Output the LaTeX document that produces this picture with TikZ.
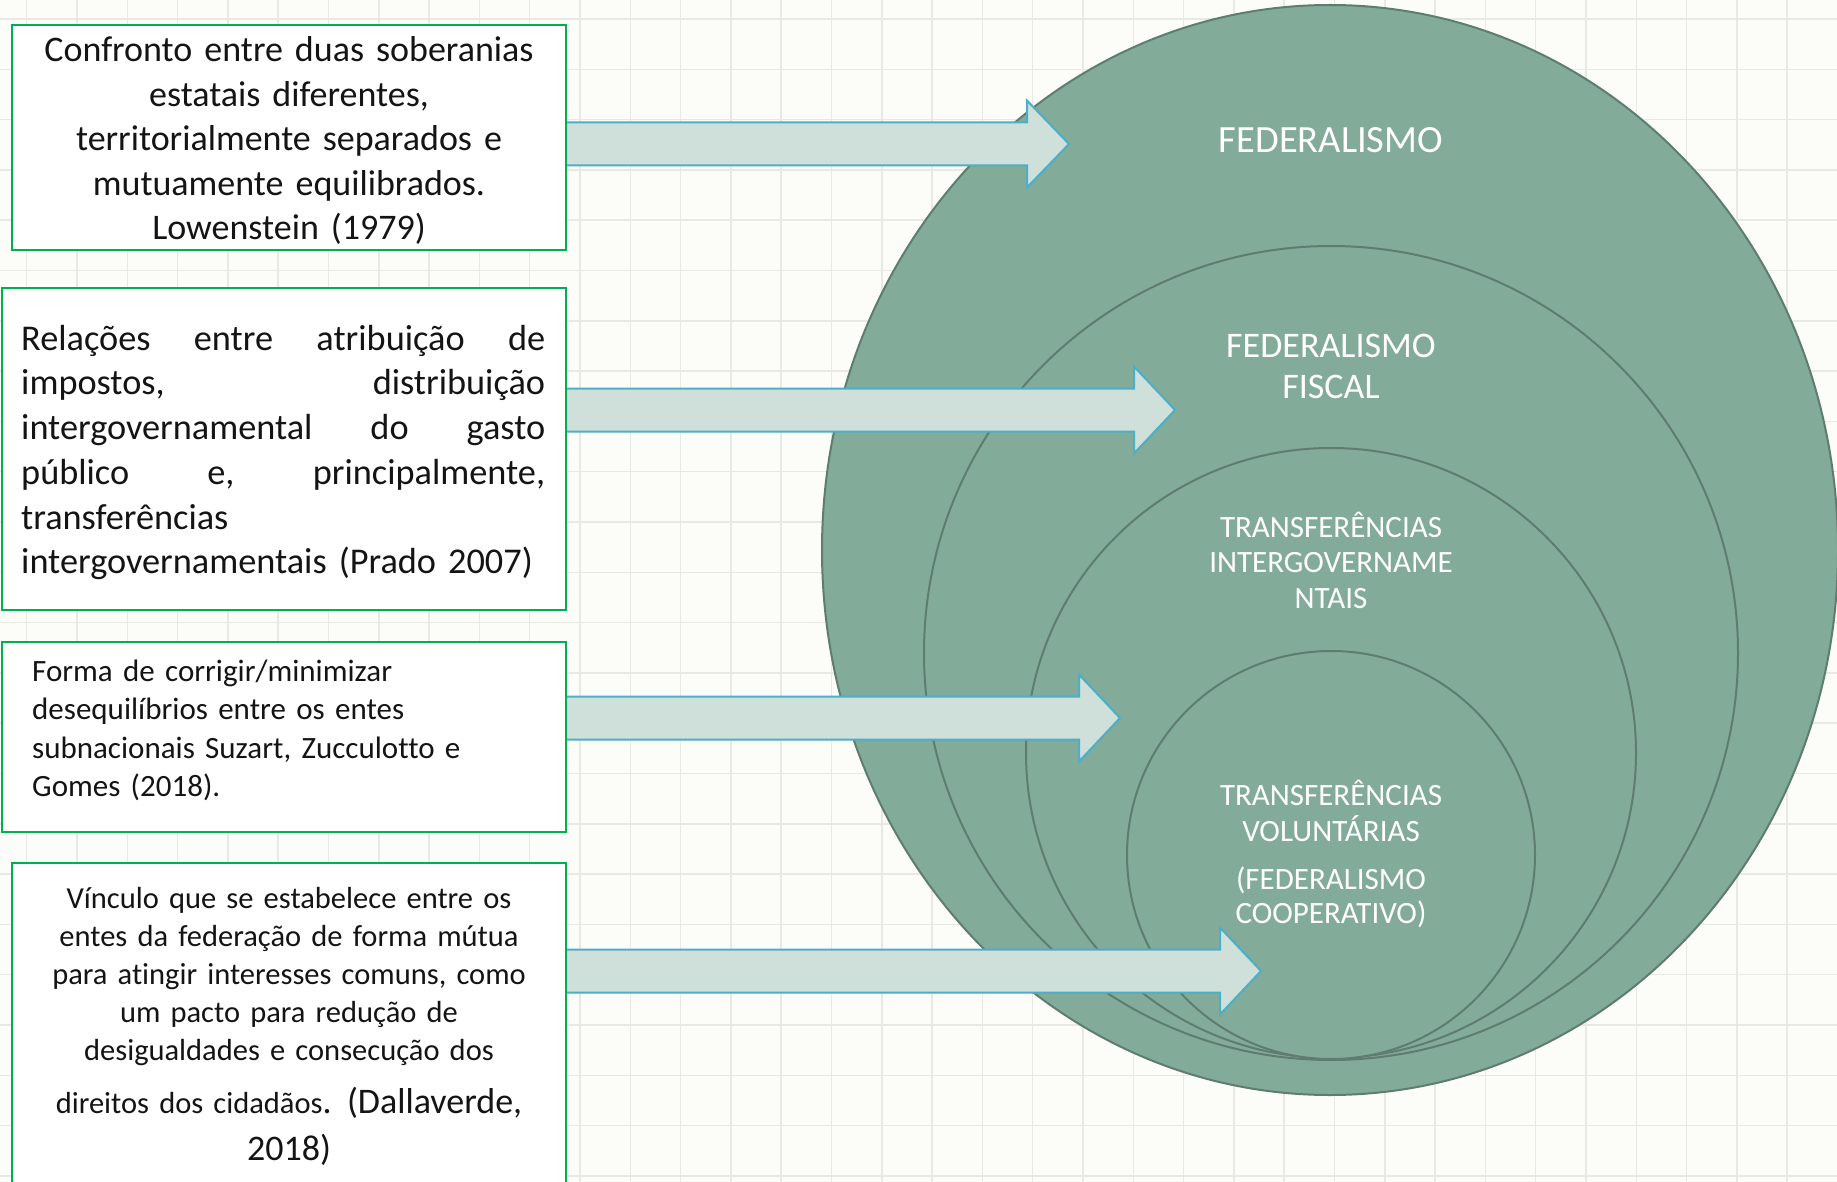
\documentclass[tikz,border=0pt]{standalone}
\usepackage{fontspec}
\setmainfont{Carlito}[Ligatures=NoCommon]
\usetikzlibrary{shapes.geometric}
\definecolor{bgc}{HTML}{FCFCF8}
\definecolor{gridc}{HTML}{E9E9E4}
\definecolor{boxc}{HTML}{00B050}
\definecolor{arrfill}{HTML}{CFDFDA}
\definecolor{arrline}{HTML}{4BAFC8}
\definecolor{ringfill}{HTML}{82AB9A}
\definecolor{ringline}{HTML}{5E7D70}
\definecolor{inkc}{HTML}{141414}
\tikzset{
  ring/.style={ellipse, draw=ringline, fill=ringfill, line width=2pt, inner sep=0pt},
  textbox/.style={draw=boxc, fill=white, line width=2.5pt, inner sep=0pt},
  barrow/.style={draw=arrline, fill=arrfill, line width=2pt, line join=miter},
  lbl/.style={text=white, inner sep=0pt, align=center},
  body/.style={text=inkc, inner sep=0pt}
}
\newcommand{\blockarr}[4]{% name, y centre, head base x, tip x
  \coordinate (#1) at (#4,#2);
  \filldraw[barrow] (566,#2-21.5) -- (#3,#2-21.5) -- (#3,#2-43.5) -- (#1) -- (#3,#2+43.5) -- (#3,#2+21.5) -- (566,#2+21.5) -- cycle;}
\begin{document}
\begin{tikzpicture}[x=1pt,y=-1pt]
\useasboundingbox (0,0) rectangle (1837,1182);
\fill[bgc] (0,0) rectangle (1837,1182);
\foreach \i in {0,...,36} \draw[gridc, line width=1.5pt] ({26.7+50.3*\i},0) -- ({26.7+50.3*\i},1182);
\foreach \j in {0,...,23} \draw[gridc, line width=1.5pt] (0,{19+50.3*\j}) -- (1837,{19+50.3*\j});

% nested circles
\node[ring, minimum width=1016pt, minimum height=1090pt] (fed) at (1330,550) {};
\node[ring, minimum width=814pt, minimum height=814pt] (fisc) at (1331,653) {};
\node[ring, minimum width=610pt, minimum height=610pt] (trans) at (1331,753) {};
\node[ring, minimum width=408pt, minimum height=408pt] (vol) at (1331,855) {};

\node[lbl, anchor=base, font=\fontsize{38.5}{46}\selectfont] (lfed) at (1331,153) {FEDERALISMO};
\node[lbl, anchor=base, font=\fontsize{36}{41}\selectfont, text width=300pt] (lfisc) at (1331,357) {FEDERALISMO\\FISCAL};
\node[lbl, anchor=base, font=\fontsize{31}{35.5}\selectfont, text width=300pt] (ltrans) at (1331,537) {TRANSFERÊNCIAS\\INTERGOVERNAME\\NTAIS};
\node[lbl, anchor=base, font=\fontsize{31}{36}\selectfont, text width=300pt] (lvol) at (1331,805) {TRANSFERÊNCIAS\\VOLUNTÁRIAS};
\node[lbl, anchor=base, font=\fontsize{31}{34}\selectfont, text width=300pt] (lcoop) at (1331,889) {(FEDERALISMO\\COOPERATIVO)};

% block arrows
\blockarr{a1}{144}{1027}{1069}
\blockarr{a2}{410}{1134}{1175}
\blockarr{a3}{718}{1079}{1120}
\blockarr{a4}{971}{1220}{1261}

% boxes
\node[textbox, minimum width=554pt, minimum height=225pt] (b1) at (289,137.5) {};
\node[textbox, minimum width=564pt, minimum height=322pt] (b2) at (284,449) {};
\node[textbox, minimum width=564pt, minimum height=190pt] (b3) at (284,737) {};
\node[textbox, minimum width=554pt, minimum height=340pt] (b4) at (289,1033) {};

\node[body, anchor=base, text width=540pt, align=center, font=\fontsize{36}{44.5}\selectfont] (t1) at (289,62) {Confronto entre duas soberanias\\estatais diferentes,\\territorialmente separados e\\mutuamente equilibrados.\\Lowenstein (1979)};

\node[body, anchor=base west, text width=524pt, font=\fontsize{36.3}{44.8}\selectfont] (t2) at (21,350) {%
\hbox to 524pt{Relações\hfill entre\hfill atribuição\hfill de}
\hbox to 524pt{impostos,\hfill distribuição}
\hbox to 524pt{intergovernamental\hfill do\hfill gasto}
\hbox to 524pt{público\hfill e,\hfill principalmente,}
\hbox{transferências}
\hbox{intergovernamentais (Prado 2007)}};

\node[body, anchor=base west, text width=520pt, align=left, font=\fontsize{31}{38.3}\selectfont] (t3) at (32,681.5) {Forma de corrigir/minimizar\\desequilíbrios entre os entes\\subnacionais Suzart, Zucculotto e\\Gomes (2018).};

\node[body, anchor=base, text width=540pt, align=center, font=\fontsize{30.5}{38.1}\selectfont] (t4) at (289,908) {Vínculo que se estabelece entre os\\entes da federação de forma mútua\\para atingir interesses comuns, como\\um pacto para redução de\\desigualdades e consecução dos\\[14.6pt]direitos dos cidadãos{\fontsize{36}{44}\selectfont. (Dallaverde,}\\[9pt]{\fontsize{36}{44}\selectfont 2018)}};
\end{tikzpicture}
\end{document}
